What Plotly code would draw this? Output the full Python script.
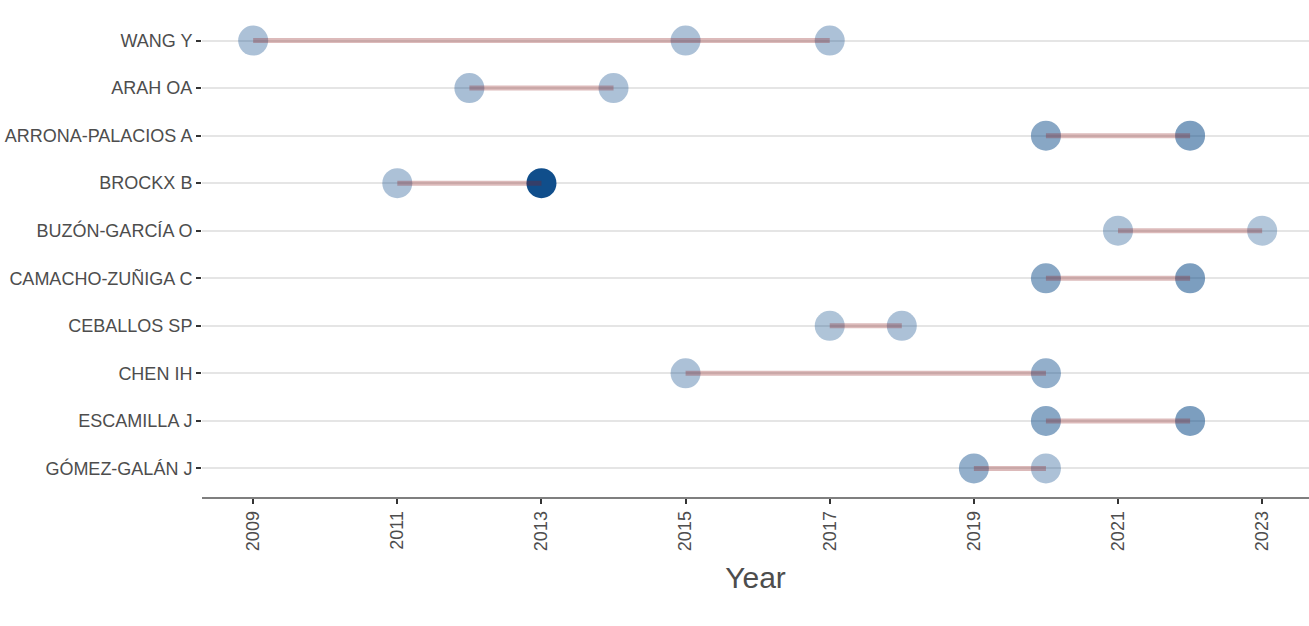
import plotly.graph_objects as go

# Authors (top to bottom as displayed)
authors = ["WANG Y", "ARAH OA", "ARRONA-PALACIOS A", "BROCKX B", "BUZÓN-GARCÍA O",
           "CAMACHO-ZUÑIGA C", "CEBALLOS SP", "CHEN IH", "ESCAMILLA J", "GÓMEZ-GALÁN J"]

# Publication points per author
point_author = ["WANG Y", "WANG Y", "WANG Y",
                "ARAH OA", "ARAH OA",
                "ARRONA-PALACIOS A", "ARRONA-PALACIOS A",
                "BROCKX B", "BROCKX B",
                "BUZÓN-GARCÍA O", "BUZÓN-GARCÍA O",
                "CAMACHO-ZUÑIGA C", "CAMACHO-ZUÑIGA C",
                "CEBALLOS SP", "CEBALLOS SP",
                "CHEN IH", "CHEN IH",
                "ESCAMILLA J", "ESCAMILLA J",
                "GÓMEZ-GALÁN J", "GÓMEZ-GALÁN J"]
point_year = [2009, 2015, 2017,
              2012, 2014,
              2020, 2022,
              2011, 2013,
              2021, 2023,
              2020, 2022,
              2017, 2018,
              2015, 2020,
              2020, 2022,
              2019, 2020]
# Total citations per year (drives marker transparency)
point_tcpy = [1.4, 1.4, 1.4,
              1.8, 1.4,
              5.7, 7.1,
              1.4, 20.0,
              1.3, 0.6,
              5.7, 7.1,
              0.9, 1.4,
              1.4, 4.3,
              5.7, 7.1,
              4.3, 1.4]

x_ticks = [2009, 2011, 2013, 2015, 2017, 2019, 2021, 2023]

tmin, tmax = 0.0, max(point_tcpy)
opac = [0.3 + 0.7 * (t - tmin) / (tmax - tmin) for t in point_tcpy]

fig = go.Figure()

fig.add_trace(go.Scatter(
    x=point_year, y=point_author, mode="markers",
    marker=dict(size=30, color="#104E8B", opacity=opac, line=dict(width=0)),
    showlegend=False, hoverinfo="x+y"))

for a in authors:
    ys = [y for y, pa in zip(point_year, point_author) if pa == a]
    fig.add_trace(go.Scatter(
        x=[min(ys), max(ys)], y=[a, a], mode="lines",
        line=dict(color="rgba(139,26,26,0.3)", width=5),
        showlegend=False, hoverinfo="skip"))

font_fam = "Liberation Sans"
fig.update_layout(
    width=1309, height=626,
    margin=dict(l=202, r=0, t=11.5, b=129, pad=0),
    plot_bgcolor="white", paper_bgcolor="white",
    font=dict(family=font_fam, color="#4D4D4D", size=18),
    xaxis=dict(range=[2008.29, 2023.65], tickmode="array", tickvals=x_ticks,
               ticktext=[str(v) for v in x_ticks], tickangle=-90,
               showgrid=False, zeroline=False,
               showline=True, linecolor="#7F7F7F", linewidth=1.8,
               ticks="outside", ticklen=5, tickcolor="#333333", tickwidth=1.5,
               tickfont=dict(family=font_fam, size=18, color="#4D4D4D"),
               title=dict(text="Year", font=dict(family=font_fam, size=30, color="#4D4D4D"),
                          standoff=17)),
    yaxis=dict(categoryorder="array", categoryarray=authors[::-1],
               range=[-0.6, 9.6],
               showgrid=True, gridcolor="#E5E5E5", gridwidth=1.5,
               zeroline=False, showline=False,
               ticks="outside", ticklen=5, tickcolor="#333333", tickwidth=1.5,
               tickfont=dict(family=font_fam, size=18, color="#4D4D4D")),
)

fig.write_html("out.html",
               config={"displayModeBar": False},
               post_script="document.body.style.margin='0';document.body.style.overflow='hidden';")
